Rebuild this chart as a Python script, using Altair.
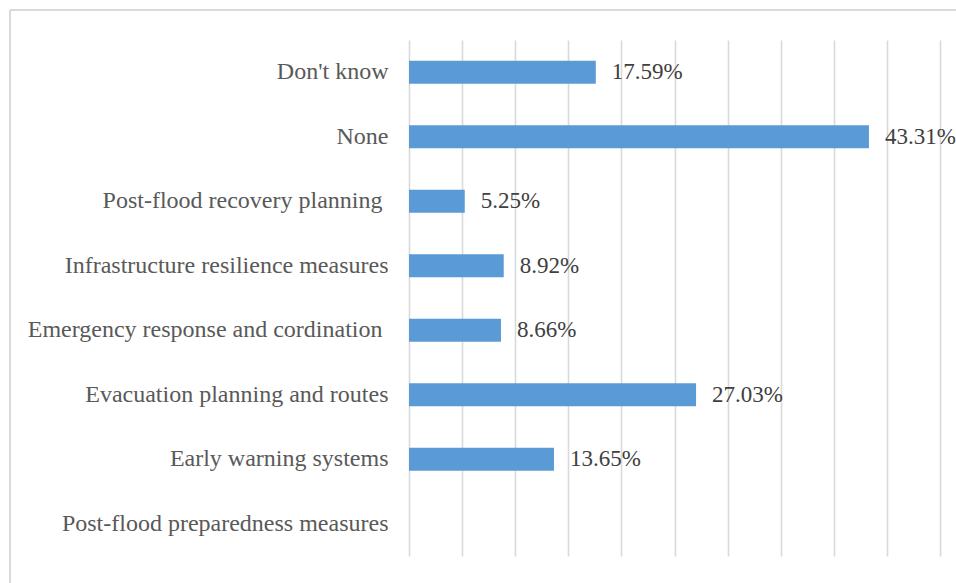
import altair as alt
import pandas as pd

categories = [
    "Don't know",
    "None",
    "Post-flood recovery planning\u00a0\u200b",
    "Infrastructure resilience measures",
    "Emergency response and cordination\u00a0\u200b",
    "Evacuation planning and routes",
    "Early warning systems",
    "Post-flood preparedness measures",
]
values = [17.59, 43.31, 5.25, 8.92, 8.66, 27.03, 13.65, None]
labels = ["17.59%", "43.31%", "5.25%", "8.92%", "8.66%", "27.03%", "13.65%", ""]

df = pd.DataFrame({"category": categories, "value": values, "label": labels})

FONT = "Liberation Serif"

y_enc = alt.Y(
    "category:N",
    sort=categories,
    scale=alt.Scale(paddingInner=0.64, paddingOuter=0.32),
    axis=alt.Axis(
        title=None, ticks=False, domain=False, grid=False, labelFont=FONT, labelFontSize=24,
        labelColor="#595959", labelPadding=21, labelLimit=500,
    ),
)
x_enc = alt.X(
    "value:Q",
    scale=alt.Scale(domain=[0, 50]),
    axis=alt.Axis(
        title=None, values=[0, 5, 10, 15, 20, 25, 30, 35, 40, 45, 50],
        labels=False, ticks=False, domain=False, grid=True,
        gridColor="#d9d9d9", gridWidth=1.6,
    ),
)

bars = alt.Chart(df).mark_bar(color="#5b9bd5").encode(x=x_enc, y=y_enc)
texts = alt.Chart(df).mark_text(
    align="left", baseline="middle", dx=16, font=FONT, fontSize=23, color="#404040"
).encode(x=alt.X("value:Q"), y=alt.Y("category:N", sort=categories), text="label:N")

frame_left = alt.Chart(df).mark_rule(color="#d9d9d9", strokeWidth=1.5, clip=False).encode(
    x=alt.value(-399), y=alt.value(-30), y2=alt.value(600)
)
frame_top = alt.Chart(df).mark_rule(color="#d9d9d9", strokeWidth=1.5, clip=False).encode(
    x=alt.value(-399), x2=alt.value(600), y=alt.value(-30)
)

chart = (
    alt.layer(frame_left, frame_top, bars, texts)
    .properties(
        width=531, height=516,
        autosize=alt.AutoSizeParams(type="none"),
        padding={"left": 409, "top": 40, "right": 16, "bottom": 27},
        view=alt.ViewBackground(stroke="transparent", strokeWidth=0),
    )
    .configure_view(strokeWidth=0, stroke="transparent")
    .configure(background="white")
)

chart.save("out.html", embed_options={"renderer": "svg", "actions": False})
